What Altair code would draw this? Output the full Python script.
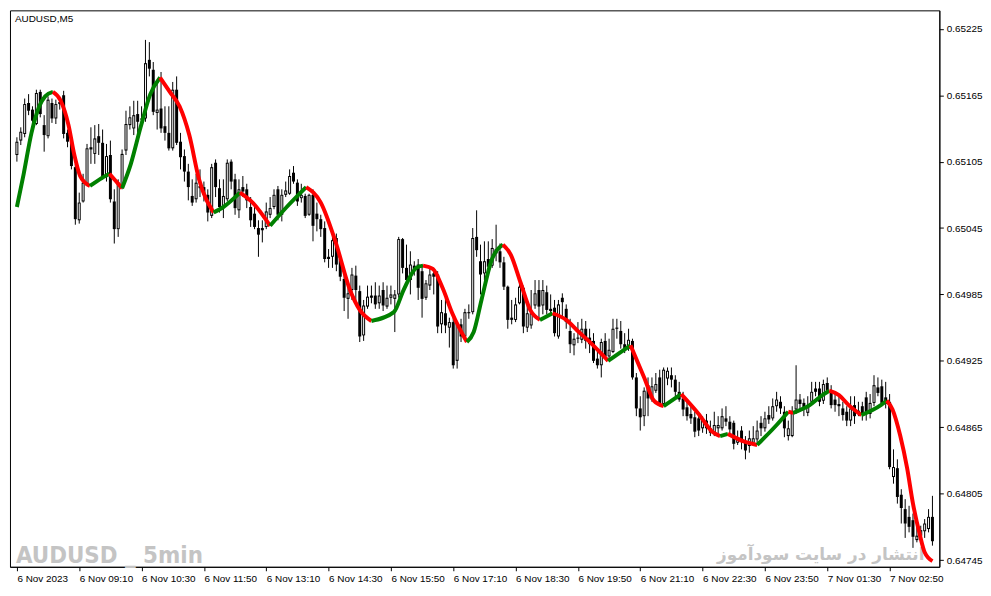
import altair as alt
import pandas as pd

# ---- candle data (prices in units of 0.00001) ----
open_pts = [65111,65124,65130,65158,65152,65139,65168,65138,65128,65158,65144,65157,65165,65131,65123,65100,
            65052,65069,65085,65116,65112,65128,65122,65092,65111,65069,65044,65082,65115,65138,65135,65148,
            65143,65144,65197,65188,65149,65153,65137,65131,65117,65170,65123,65110,65096,65074,65071,65083,
            65082,65075,65056,65104,65081,65065,65071,65105,65089,65061,65082,65080,65064,65058,65045,65043,
            65046,65057,65064,65080,65057,65075,65076,65095,65086,65072,65074,65057,65075,65058,65053,65045,
            65017,65019,65036,65017,64999,64981,64989,65002,64988,64948,64974,64982,64984,64977,64989,64974,
            64982,64981,64985,65035,65009,64998,65011,65012,65006,64982,64993,65004,65003,64958,64968,64955,
            64960,64925,64958,64947,64968,64969,65037,65015,65004,65017,65011,65022,65024,65014,64992,64962,
            64962,64977,64991,64955,64957,64975,64989,64975,64987,64970,64973,64947,64982,64972,64952,64939,
            64945,64944,64954,64946,64943,64927,64921,64943,64929,64933,64954,64952,64940,64936,64943,64910,
            64882,64875,64903,64890,64898,64910,64886,64909,64912,64908,64897,64891,64883,64877,64874,64873,
            64864,64871,64864,64860,64864,64864,64873,64870,64869,64851,64862,64851,64848,64851,64854,64869,
            64864,64876,64873,64884,64888,64879,64857,64857,64881,64890,64887,64878,64888,64900,64900,64889,
            64905,64898,64890,64886,64882,64879,64871,64885,64877,64884,64892,64877,64887,64901,64902,64892,
            64888,64820,64828,64804,64791,64784,64781,64763,64767,64771,64773,64784]
high_pts = [65127,65136,65162,65166,65155,65170,65170,65147,65164,65162,65161,65161,65169,65134,65127,65103,
            65077,65094,65121,65136,65138,65139,65134,65121,65124,65080,65089,65116,65151,65155,65160,65160,
            65155,65215,65213,65195,65177,65186,65155,65155,65177,65182,65131,65116,65103,65089,65094,65098,
            65087,65080,65103,65107,65089,65089,65107,65107,65094,65089,65092,65085,65073,65068,65052,65052,
            65068,65073,65080,65083,65080,65087,65098,65101,65089,65085,65076,65076,65080,65068,65057,65051,
            65026,65040,65040,65019,65004,64993,65009,65011,64993,64980,64993,64993,64996,64993,64996,64993,
            64993,64989,65037,65036,65030,65024,65015,65017,65011,64998,65009,65009,65006,64980,64982,64964,
            64964,64960,64963,64972,64976,65045,65061,65030,65033,65033,65035,65048,65031,65019,64993,64980,
            64982,64998,64993,64980,64989,64998,64998,64998,64993,64985,64980,64980,64986,64976,64963,64950,
            64960,64963,64961,64954,64950,64936,64945,64950,64945,64963,64963,64961,64950,64954,64945,64914,
            64893,64901,64910,64910,64914,64917,64919,64919,64919,64912,64906,64897,64888,64884,64879,64877,
            64875,64877,64871,64879,64875,64882,64884,64875,64871,64862,64866,64857,64862,64866,64871,64875,
            64879,64884,64891,64897,64893,64884,64871,64884,64921,64895,64891,64893,64906,64906,64906,64908,
            64910,64903,64897,64895,64888,64884,64893,64893,64888,64888,64897,64895,64912,64910,64908,64906,
            64895,64845,64836,64809,64800,64794,64787,64777,64776,64782,64791,64803]
low_pts = [65105,65120,65127,65147,65139,65138,65145,65114,65126,65140,65139,65152,65126,65118,65098,65048,
           65049,65068,65083,65103,65103,65111,65089,65087,65068,65031,65037,65080,65111,65134,65129,65131,
           65136,65141,65182,65147,65134,65131,65124,65115,65115,65120,65098,65087,65070,65065,65068,65073,
           65069,65051,65054,65073,65059,65054,65069,65080,65057,65054,65073,65063,65046,65044,65019,65032,
           65044,65054,65062,65052,65051,65073,65075,65085,65065,65068,65054,65056,65033,65042,65037,65014,
           65009,65009,65006,64997,64970,64963,64980,64976,64942,64943,64972,64977,64972,64972,64970,64972,
           64976,64951,64982,65004,64993,64985,65002,64980,64964,64980,64989,64985,64950,64950,64950,64937,
           64918,64918,64942,64943,64963,64967,65019,64985,64998,65004,65009,65015,65009,64989,64954,64958,
           64960,64976,64950,64951,64954,64972,64963,64967,64967,64967,64947,64945,64963,64954,64932,64930,
           64941,64941,64936,64932,64923,64918,64910,64927,64926,64932,64945,64936,64932,64934,64908,64875,
           64862,64866,64875,64888,64896,64884,64884,64903,64901,64893,64888,64875,64871,64868,64856,64857,
           64860,64859,64857,64857,64859,64862,64866,64857,64845,64849,64845,64836,64842,64849,64851,64857,
           64861,64868,64871,64879,64877,64856,64853,64856,64877,64879,64875,64875,64886,64893,64884,64886,
           64895,64882,64879,64875,64871,64866,64866,64868,64875,64871,64871,64873,64884,64893,64884,64882,
           64827,64814,64796,64778,64765,64770,64756,64761,64763,64765,64770,64758]
close_pts = [65123,65132,65157,65151,65142,65167,65148,65129,65161,65144,65157,65159,65130,65123,65101,65053,
             65068,65086,65117,65118,65126,65122,65091,65110,65071,65044,65086,65112,65139,65145,65147,65141,
             65144,65194,65189,65150,65152,65135,65131,65117,65170,65122,65109,65096,65082,65068,65086,65081,
             65075,65059,65100,65082,65064,65074,65104,65087,65063,65080,65078,65070,65052,65046,65039,65045,
             65060,65063,65075,65057,65075,65079,65092,65087,65069,65075,65056,65075,65047,65053,65044,65017,
             65019,65034,65012,65001,64982,64986,65003,64989,64947,64975,64983,64984,64976,64984,64975,64982,
             64985,64985,65035,65009,64998,65012,65008,64991,64981,64995,65003,65001,64956,64969,64957,64960,
             64921,64958,64947,64969,64969,65036,65025,65003,65015,65010,65027,65026,65014,64992,64962,64964,
             64976,64992,64956,64968,64968,64986,64974,64989,64971,64972,64950,64976,64978,64960,64940,64945,
             64946,64954,64943,64940,64925,64921,64942,64929,64935,64954,64955,64940,64935,64944,64910,64882,
             64874,64898,64891,64902,64904,64886,64917,64916,64908,64897,64890,64881,64875,64873,64861,64862,
             64872,64864,64860,64867,64867,64875,64870,64863,64850,64856,64853,64844,64855,64855,64862,64864,
             64873,64872,64884,64890,64882,64864,64864,64879,64890,64886,64882,64885,64897,64897,64888,64904,
             64898,64885,64885,64884,64876,64871,64882,64875,64880,64877,64877,64887,64903,64896,64887,64886,
             64829,64829,64802,64792,64778,64775,64766,64767,64772,64778,64784,64762]

# ---- moving average (bar position, price units 0.00001) ----
ma_bar = [0,1.75,3.75,5.75,7.25,9.25,11.25,13.25,14.75,16.25,18.75,21.25,23.75,25.5,27,29.25,31.75,34.25,
          36.75,39.25,41.75,44.25,46.75,50.5,53,57.25,60.5,65,69.25,74.25,78,81.75,85.5,88,91,96.75,99.25,
          102.5,104.25,106.75,109.25,111.75,115.5,117.25,119.25,121.75,124.75,126.75,129.25,131.75,134.25,
          137.5,141,144.25,146.75,151.75,157.5,161,163.5,166,170.5,175,178.5,180.5,182.5,186.75,190,195,198,
          199.25,203.5,206.75,208.5,211,213.5,216.75,221.75,223.25,224.75,226.75,228.5,230,231.75,233,235]
ma_pts = [65064,65094,65131,65155,65164,65168,65160,65138,65111,65092,65083,65089,65094,65087,65081,65103,
          65136,65166,65181,65168,65155,65129,65089,65059,65064,65077,65068,65047,65064,65082,65068,65033,
          64989,64971,64961,64969,64989,65009,65011,65008,64991,64968,64942,64951,64980,65015,65030,65021,
          64996,64971,64962,64968,64962,64951,64943,64925,64939,64910,64889,64884,64895,64877,64861,64857,
          64859,64852,64849,64867,64879,64878,64885,64894,64898,64894,64885,64876,64885,64889,64881,64857,
          64828,64796,64768,64752,64744]

# ---- axis labels ----
tick_bars = [0, 16, 32, 48, 64, 80, 96, 112, 128, 144, 160, 176, 192, 208, 224]
time_labels = ["6 Nov 2023", "6 Nov 09:10", "6 Nov 10:30", "6 Nov 11:50", "6 Nov 13:10",
               "6 Nov 14:30", "6 Nov 15:50", "6 Nov 17:10", "6 Nov 18:30", "6 Nov 19:50",
               "6 Nov 21:10", "6 Nov 22:30", "6 Nov 23:50", "7 Nov 01:30", "7 Nov 02:50"]
price_ticks = [0.64745, 0.64775, 0.64805, 0.64835, 0.64865, 0.64895, 0.64925, 0.64955, 0.64985,
               0.65015, 0.65045, 0.65075, 0.65105, 0.65135, 0.65165, 0.65195, 0.65225]

n = len(close_pts)
candles = pd.DataFrame({
    "bar": list(range(n)),
    "open": [v / 1e5 for v in open_pts],
    "high": [v / 1e5 for v in high_pts],
    "low": [v / 1e5 for v in low_pts],
    "close": [v / 1e5 for v in close_pts],
})

rows = []
seg = 0
prev = None
for i in range(len(ma_bar) - 1):
    d = "up" if ma_pts[i + 1] > ma_pts[i] else "down"
    if d != prev:
        seg += 1
        rows.append({"bar": ma_bar[i], "ma": ma_pts[i] / 1e5, "seg": seg, "dir": d, "ord": i})
        prev = d
    rows.append({"bar": ma_bar[i + 1], "ma": ma_pts[i + 1] / 1e5, "seg": seg, "dir": d, "ord": i + 1})
ma_df = pd.DataFrame(rows)

W, H = 937, 561
FONT = "Liberation Sans"

label_expr = "[" + ",".join("'" + t + "'" for t in time_labels) + "][round(datum.value / 16)]"

xs = alt.Scale(domain=[-0.5, 235.5], nice=False, zero=False)
ys = alt.Scale(domain=[0.647389, 0.652417], nice=False, zero=False)

x_axis = alt.Axis(values=tick_bars, labelExpr=label_expr, orient="bottom", title=None, grid=False,
                  tickSize=4, tickColor="black", domainColor="black", labelColor="black",
                  labelFont=FONT, labelFontSize=10, labelAlign="left", labelPadding=3,
                  labelOverlap=False, labelFlush=False, labelBound=False)
y_axis = alt.Axis(values=price_ticks, format=".5f", orient="right", title=None, grid=False,
                  tickSize=4, tickColor="black", domainColor="black", labelColor="black",
                  labelFont=FONT, labelFontSize=10, labelPadding=3, labelOverlap=False,
                  labelFlush=False, labelBound=False)

X = alt.X("bar:Q", scale=xs, axis=x_axis)

wm1 = alt.Chart(pd.DataFrame({"t": ["AUDUSD _ 5min"]})).mark_text(
    font="'DejaVu Sans Condensed', 'DejaVu Sans'", fontSize=24, fontWeight="bold", color="#C4C4C4",
    align="left", baseline="alphabetic").encode(x=alt.value(6), y=alt.value(H - 4), text="t:N")
wm2 = alt.Chart(pd.DataFrame({"t": ["انتشار در سایت سودآموز"]})).mark_text(
    font="DejaVu Sans", fontSize=17, fontWeight="bold", color="#C4C4C4",
    align="right", baseline="alphabetic").encode(x=alt.value(922), y=alt.value(H - 7), text="t:N")
title = alt.Chart(pd.DataFrame({"t": ["AUDUSD,M5"]})).mark_text(
    font=FONT, fontSize=10, color="black", align="left", baseline="middle").encode(
    x=alt.value(5), y=alt.value(9), text="t:N")

wicks = alt.Chart(candles).mark_rule(color="black", strokeWidth=1).encode(
    x=X, y=alt.Y("low:Q", scale=ys, axis=y_axis), y2="high:Q")
bodies = alt.Chart(candles).mark_bar(size=3, color="black").encode(
    x=X, y=alt.Y("open:Q", scale=ys), y2="close:Q")
hollow = alt.Chart(candles).transform_filter(
    "datum.close - datum.open > 0.000025").mark_bar(
    size=1, color="white", yOffset=-1, y2Offset=1).encode(
    x=X, y=alt.Y("open:Q", scale=ys), y2="close:Q")
ma_line = alt.Chart(ma_df).mark_line(strokeWidth=4, interpolate="monotone").encode(
    x=X, y=alt.Y("ma:Q", scale=ys),
    color=alt.Color("dir:N", scale=alt.Scale(domain=["up", "down"], range=["#008000", "#FF0000"]), legend=None),
    detail="seg:N", order="ord:Q")

chart = alt.layer(wm1, wm2, wicks, bodies, hollow, ma_line, title).properties(
    width=W, height=H, padding=0, background="white"
).configure_view(stroke="black", strokeWidth=1)

chart.save("out.html", embed_options={"renderer": "svg", "actions": False})
